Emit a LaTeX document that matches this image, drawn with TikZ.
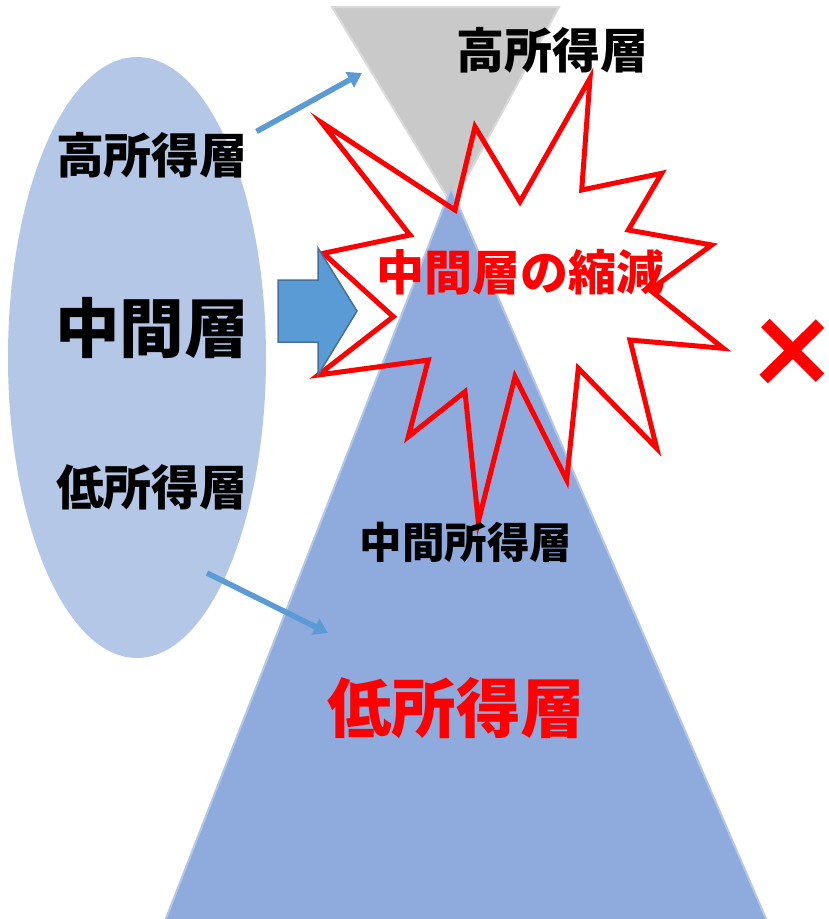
\documentclass[tikz,border=0pt]{standalone}
\usepackage{fontspec}
\newfontfamily\jp{Noto Sans CJK JP}
\usetikzlibrary{arrows.meta,shapes.geometric}
\definecolor{ellblue}{HTML}{B4C7E7}
\definecolor{triblue}{HTML}{8FAADC}
\definecolor{triedge}{HTML}{B4C7E7}
\definecolor{grayfill}{HTML}{C9C9C9}
\definecolor{grayedge}{HTML}{DADADA}
\definecolor{arrblue}{HTML}{5B9BD5}
\definecolor{arredge}{HTML}{41719C}
\definecolor{xred}{HTML}{FF0000}
\tikzset{
  lbl/.style={font=\jp\bfseries\fontsize{48}{48}\selectfont, text=black, inner sep=0pt},
  biglbl/.style={font=\jp\bfseries\fontsize{64.5}{64.5}\selectfont, inner sep=0pt},
  midlbl/.style={font=\jp\bfseries\fontsize{42.5}{42.5}\selectfont, text=black, inner sep=0pt},
  thinarrow/.style={draw=arrblue, line width=5.5pt, -{Triangle[length=14pt,width=17pt]}},
}
\begin{document}
\begin{tikzpicture}[x=1pt,y=-1pt]
\useasboundingbox (0,0) rectangle (828,919);
\fill[white] (0,0) rectangle (828,919);
% ellipse
\fill[ellblue] (137,357.5) ellipse [x radius=129, y radius=300.5];
% gray inverted triangle
\filldraw[fill=grayfill, draw=grayedge, line width=2pt] (332,7) -- (559,7) -- (452,205) -- cycle;
% blue triangle
\filldraw[fill=triblue, draw=triedge, line width=2pt] (451,188) -- (767,921) -- (165,921) -- cycle;
% star
\draw[xred, line width=5pt, line join=miter, miter limit=20]
 (321.7,122.7) -- (455,210) -- (475,126.7) -- (520,201.7) -- (590,78.3) -- (581.7,190)
 -- (661.7,173.3) -- (628.3,230) -- (711.7,245) -- (650,290) -- (723.3,348.3) -- (630,340)
 -- (656.7,448.3) -- (578.3,368.3) -- (566.7,480) -- (515,376.7) -- (478.3,521.7)
 -- (465,391.7) -- (408.3,436.7) -- (428.3,360) -- (318.3,375) -- (393.3,316.7)
 -- (323.3,253.3) -- (410,235) -- cycle;
% block arrow
\filldraw[fill=arrblue, draw=arredge, line width=1.5pt]
 (278,280) -- (318,280) -- (318,248) -- (357,311) -- (318,375) -- (318,342) -- (278,342) -- cycle;
% thin arrows
\coordinate (a1s) at (256.5,131.5);
\coordinate (a1e) at (362,73);
\coordinate (a2s) at (207,573);
\coordinate (a2e) at (328,633);
\draw[thinarrow] (a1s) -- (a1e);
\draw[thinarrow] (a2s) -- (a2e);
% red X
\draw[xred, line width=12pt] (765.3,323) -- (820,377.7);
\draw[xred, line width=12pt] (820,323.7) -- (763.7,379);
% labels
\node[lbl] (hightop) at (552,50) {高所得層};
\node[lbl] (highleft) at (152,155) {高所得層};
\node[biglbl, text=black] (mid) at (152,328) {中間層};
\node[lbl] (lowleft) at (152,487) {低所得層};
\node[midlbl] (midinc) at (466,542) {中間所得層};
\node[biglbl, text=xred] (lowred) at (456,708) {低所得層};
\node[lbl, text=xred] (shrink) at (520,272) {中間層の縮減};
\end{tikzpicture}
\end{document}
